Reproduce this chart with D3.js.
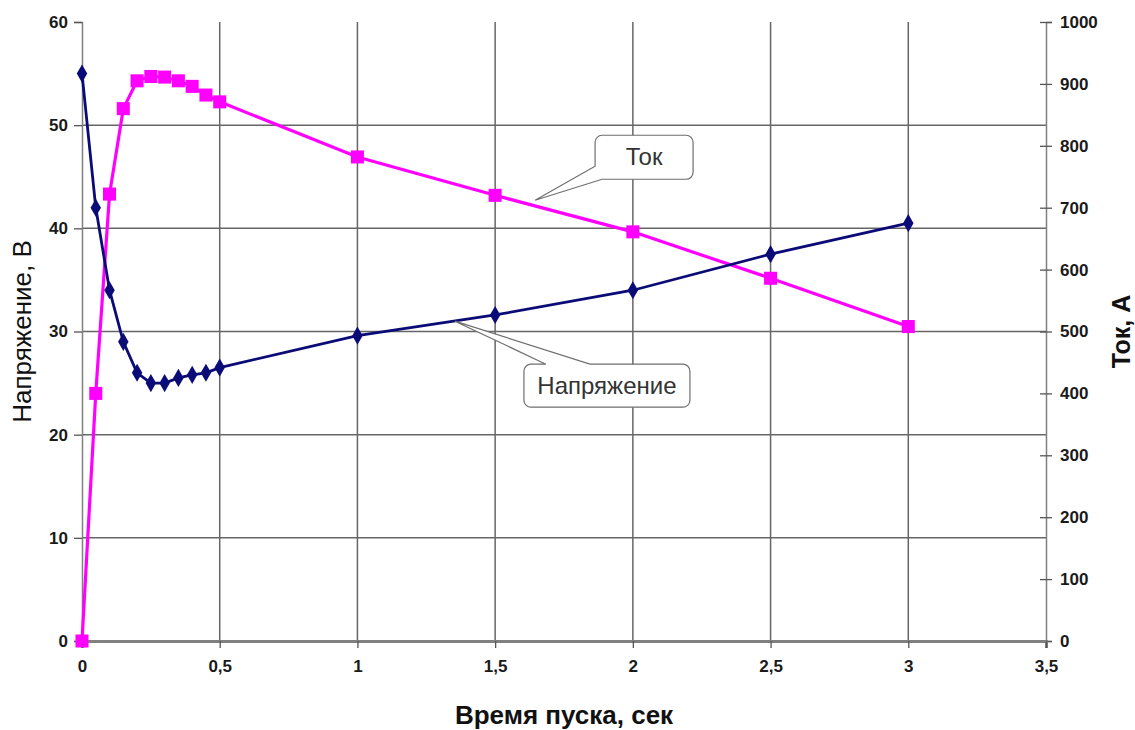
<!DOCTYPE html>
<html>
<head>
<meta charset="utf-8">
<script src="https://cdn.jsdelivr.net/npm/d3@7"></script>
<style>
  body { margin: 0; background: #fff; }
  text { font-family: "Liberation Sans", Arial, sans-serif; }
</style>
</head>
<body>
<script>
// time points (s) and the two measured series
var timeSec = [0, 0.05, 0.1, 0.15, 0.2, 0.25, 0.3, 0.35, 0.4, 0.45, 0.5, 1, 1.5, 2, 2.5, 3];
var voltage = [55, 42, 34, 29, 26, 25, 25, 25.5, 25.8, 26, 26.5, 29.6, 31.6, 34, 37.5, 40.5];
var current = [0, 400, 722, 860, 905, 912, 911, 905, 896, 882, 871, 782, 720, 661, 586, 508];

var xTicks = [0, 0.5, 1, 1.5, 2, 2.5, 3, 3.5];
var yLeftTicks = [0, 10, 20, 30, 40, 50, 60];
var yRightTicks = [0, 100, 200, 300, 400, 500, 600, 700, 800, 900, 1000];

// callout labels: anchor point in data units
var callouts = [
  {text: "Ток", t: 1.645, val: 712, axis: "right"},
  {text: "Напряжение", t: 1.354, val: 31.0, axis: "left"}
];

var W = 1135, H = 730;
var margin = {top: 22, right: 89, bottom: 89, left: 82};

var svg = d3.select("body").append("svg").attr("width", W).attr("height", H);

var x = d3.scaleLinear().domain([0, 3.5]).range([margin.left, W - margin.right]);
var yL = d3.scaleLinear().domain([0, 60]).range([H - margin.bottom, margin.top]);
var yR = d3.scaleLinear().domain([0, 1000]).range([H - margin.bottom, margin.top]);

var ru = d3.formatLocale({decimal: ",", thousands: " ", grouping: [3], currency: ["", ""]});
var fmt = ru.format("~g");

// gridlines
svg.append("g").selectAll("line").data(yLeftTicks.filter(function(d) { return d > 0 && d < 60; }))
  .enter().append("line")
  .attr("x1", x(0)).attr("x2", x(3.5))
  .attr("y1", function(d) { return yL(d); }).attr("y2", function(d) { return yL(d); })
  .attr("stroke", "#666").attr("stroke-width", 1.5);

svg.append("g").selectAll("line").data(xTicks.filter(function(d) { return d > 0 && d < 3.5; }))
  .enter().append("line")
  .attr("x1", function(d) { return x(d); }).attr("x2", function(d) { return x(d); })
  .attr("y1", yL(60)).attr("y2", yL(0))
  .attr("stroke", "#666").attr("stroke-width", 1.5);

// axes
var axL = svg.append("g").attr("transform", "translate(" + margin.left + ",0)")
  .call(d3.axisLeft(yL).tickValues(yLeftTicks).tickSize(8).tickPadding(6).tickFormat(fmt));
var axR = svg.append("g").attr("transform", "translate(" + (W - margin.right) + ",0)")
  .call(d3.axisRight(yR).tickValues(yRightTicks).tickSize(6).tickPadding(8).tickFormat(fmt));
axR.selectAll(".tick line").attr("x1", -6);
var axB = svg.append("g").attr("transform", "translate(0," + (H - margin.bottom) + ")")
  .call(d3.axisBottom(x).tickValues(xTicks).tickSize(7).tickPadding(12).tickFormat(fmt));

[axL, axR, axB].forEach(function(a) {
  a.select(".domain").attr("stroke", "#808080").attr("stroke-width", 1.5);
  a.selectAll(".tick line").attr("stroke", "#555").attr("stroke-width", 1.3);
  a.selectAll(".tick text").attr("font-size", 17).attr("font-weight", "bold").attr("fill", "#1a1a1a")
    .style("font-family", "'Liberation Sans', Arial, sans-serif");
});
axB.select(".domain").attr("stroke-width", 3);

// axis titles
svg.append("text").attr("transform", "translate(31," + yL(30) + ") rotate(-90)")
  .attr("text-anchor", "middle").attr("font-size", 26).attr("fill", "#111")
  .text("Напряжение, В");
svg.append("text").attr("transform", "translate(1130," + yR(500) + ") rotate(-90)")
  .attr("text-anchor", "middle").attr("font-size", 25).attr("font-weight", "bold").attr("fill", "#111")
  .text("Ток, А");
svg.append("text").attr("x", x(1.75)).attr("y", 724)
  .attr("text-anchor", "middle").attr("font-size", 26).attr("font-weight", "bold").attr("fill", "#111")
  .text("Время пуска, сек");

// series
var vLine = d3.line().x(function(d, i) { return x(timeSec[i]); }).y(function(d) { return yL(d); });
var iLine = d3.line().x(function(d, i) { return x(timeSec[i]); }).y(function(d) { return yR(d); });

svg.append("path").datum(current).attr("d", iLine)
  .attr("fill", "none").attr("stroke", "#ff00ff").attr("stroke-width", 3.2);
svg.append("g").selectAll("path").data(current).enter().append("path")
  .attr("transform", function(d, i) { return "translate(" + x(timeSec[i]) + "," + yR(d) + ")"; })
  .attr("d", d3.symbol().type(d3.symbolSquare).size(170))
  .attr("fill", "#ff00ff");

svg.append("path").datum(voltage).attr("d", vLine)
  .attr("fill", "none").attr("stroke", "#0b0b78").attr("stroke-width", 2.8);
svg.append("g").selectAll("path").data(voltage).enter().append("path")
  .attr("transform", function(d, i) { return "translate(" + x(timeSec[i]) + "," + yL(d) + ")"; })
  .attr("d", d3.symbol().type(d3.symbolDiamond).size(95))
  .attr("fill", "#0b0b78");

// callouts (rounded box with a thin pointer)
function calloutTok(tx, ty) {
  var bx = tx + 60, by = ty - 65, w = 98, h = 44, r = 7;
  var p = d3.path();
  p.moveTo(bx + r, by);
  p.lineTo(bx + w - r, by); p.arcTo(bx + w, by, bx + w, by + r, r);
  p.lineTo(bx + w, by + h - r); p.arcTo(bx + w, by + h, bx + w - r, by + h, r);
  p.lineTo(bx + 7, by + h);
  p.lineTo(tx, ty);
  p.lineTo(bx, by + h - 13);
  p.lineTo(bx, by + r); p.arcTo(bx, by, bx + r, by, r);
  p.closePath();
  return {d: p.toString(), cx: bx + w / 2, cy: by + h / 2};
}
function calloutVolt(tx, ty) {
  var bx = tx + 69, by = ty + 43, w = 166, h = 43, r = 7;
  var p = d3.path();
  p.moveTo(bx + r, by);
  p.lineTo(bx + 22, by);
  p.lineTo(tx, ty);
  p.lineTo(bx + 66, by);
  p.lineTo(bx + w - r, by); p.arcTo(bx + w, by, bx + w, by + r, r);
  p.lineTo(bx + w, by + h - r); p.arcTo(bx + w, by + h, bx + w - r, by + h, r);
  p.lineTo(bx + r, by + h); p.arcTo(bx, by + h, bx, by + h - r, r);
  p.lineTo(bx, by + r); p.arcTo(bx, by, bx + r, by, r);
  p.closePath();
  return {d: p.toString(), cx: bx + w / 2, cy: by + h / 2};
}

callouts.forEach(function(c) {
  var tx = x(c.t), ty = c.axis === "right" ? yR(c.val) : yL(c.val);
  var shape = c.axis === "right" ? calloutTok(tx, ty) : calloutVolt(tx, ty);
  svg.append("path").attr("d", shape.d)
    .attr("fill", "#fff").attr("stroke", "#6e6e6e").attr("stroke-width", 1.2);
  svg.append("text").attr("x", shape.cx).attr("y", shape.cy + 8)
    .attr("text-anchor", "middle").attr("font-size", 24).attr("fill", "#333")
    .text(c.text);
});
</script>
</body>
</html>
